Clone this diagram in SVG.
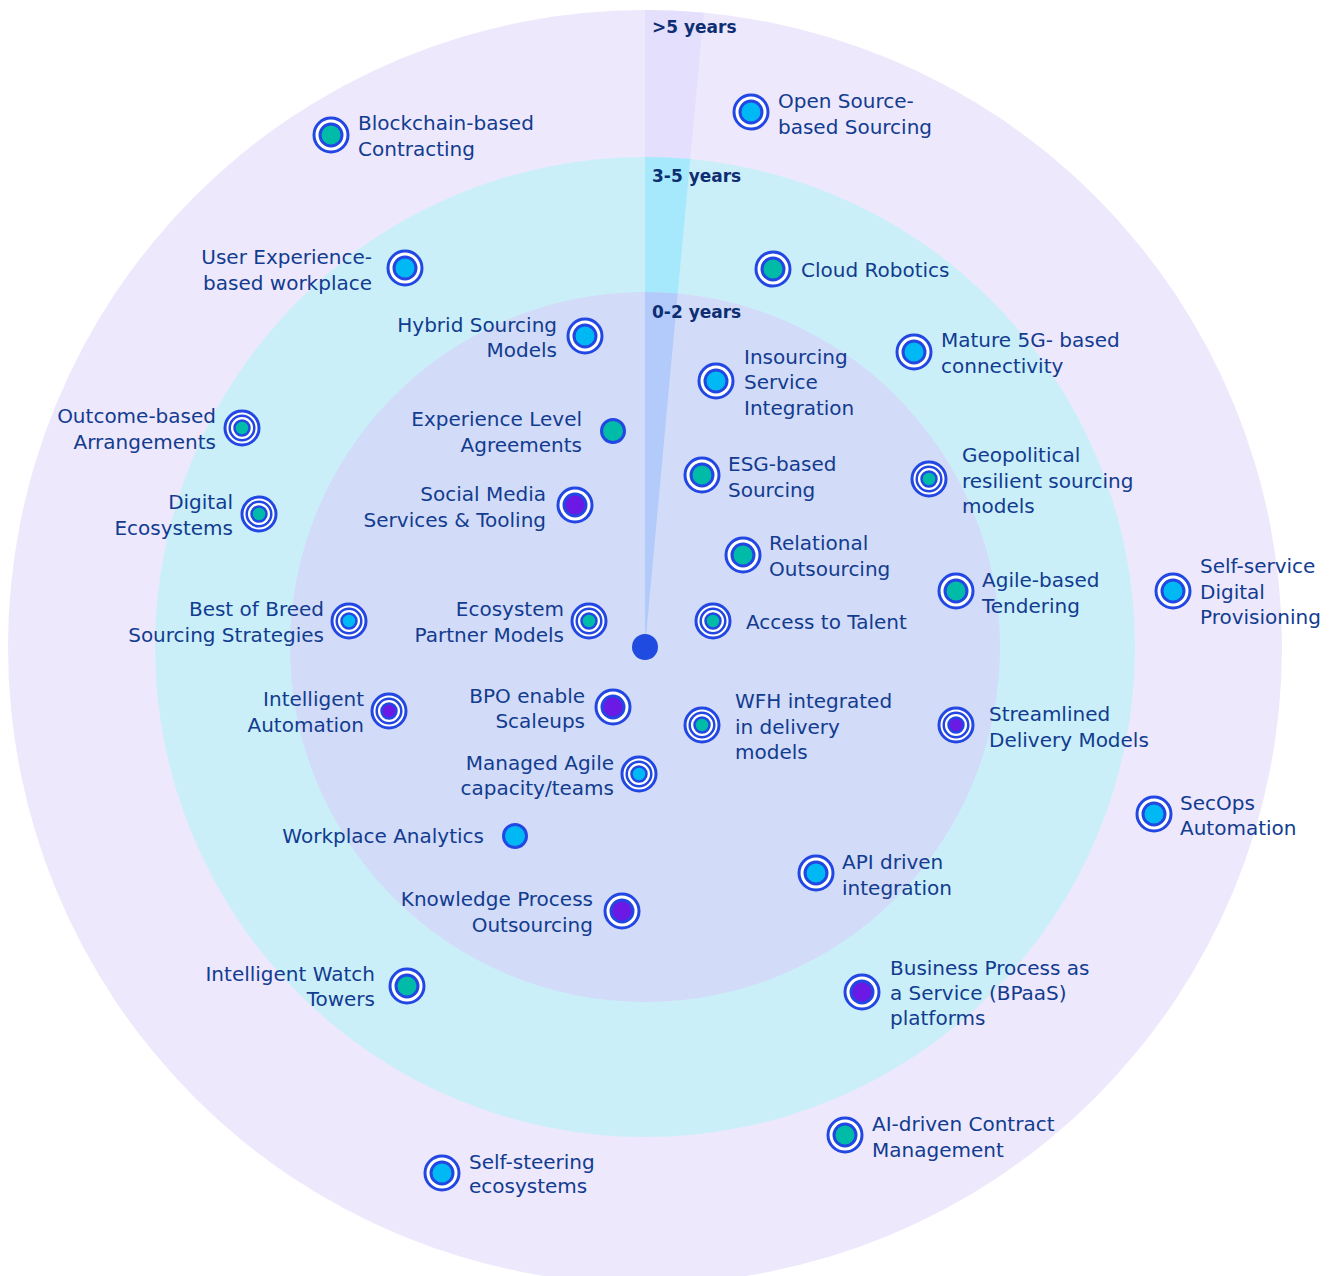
<svg xmlns="http://www.w3.org/2000/svg" xmlns:xlink="http://www.w3.org/1999/xlink" width="1342" height="1276" viewBox="0 0 1342 1276">
<style>
.lbl{font-family:"DejaVu Sans","Liberation Sans",sans-serif;font-size:20px;fill:#123c8f}
.end{text-anchor:end}
.yr{font-family:"DejaVu Sans","Liberation Sans",sans-serif;font-size:17px;font-weight:bold;fill:#0d2e72}
.c{color:#00b8f4}
.t{color:#00bba8}
.p{color:#6b1ae6}
</style>
<defs>
<g id="ms"><circle r="17" fill="#ffffff" stroke="#2347e3" stroke-width="3"/><circle r="11" fill="currentColor" stroke="#2347e3" stroke-width="3"/></g>
<g id="md"><circle r="17" fill="#ffffff" stroke="#2347e3" stroke-width="3"/><circle r="12.3" fill="#ffffff" stroke="#2347e3" stroke-width="2.5"/><circle r="7.5" fill="currentColor" stroke="#2347e3" stroke-width="2.5"/></g>
<g id="mn"><circle r="11.5" fill="currentColor" stroke="#2347e3" stroke-width="3"/></g>
</defs>
<rect width="1342" height="1276" fill="#ffffff"/>
<g id="rings">
<circle cx="645" cy="647" r="637" fill="#ede8fc"/>
<path d="M645,647 L645,10 A637,637 0 0 1 703.7,12.7 Z" fill="#e3dffc"/>
<circle cx="645" cy="647" r="490" fill="#cbeff9"/>
<path d="M645,647 L645,157 A490,490 0 0 1 690.2,159.1 Z" fill="#a6e9fc"/>
<circle cx="645" cy="647" r="355" fill="#d2dbf8"/>
<path d="M645,647 L645,292 A355,355 0 0 1 677.7,293.5 Z" fill="#b2cbfa"/>
<circle cx="645" cy="647" r="13" fill="#1f4be0"/>
<text class="yr" x="652" y="33">&gt;5 years</text>
<text class="yr" x="652" y="182">3-5 years</text>
<text class="yr" x="652" y="318">0-2 years</text>
</g>
<g id="connectors"></g>
<g id="n-open-source"><use xlink:href="#ms" href="#ms" x="751" y="112" class="c"/><text class="lbl" x="778" y="108">Open Source-<tspan x="778" dy="26">based Sourcing</tspan></text></g>
<g id="n-blockchain"><use xlink:href="#ms" href="#ms" x="331" y="135" class="t"/><text class="lbl" x="358" y="130">Blockchain-based<tspan x="358" dy="26">Contracting</tspan></text></g>
<g id="n-ux"><use xlink:href="#ms" href="#ms" x="405" y="268" class="c"/><text class="lbl end" x="372" y="264">User Experience-<tspan x="372" dy="26">based workplace</tspan></text></g>
<g id="n-outcome"><use xlink:href="#md" href="#md" x="242" y="428" class="t"/><text class="lbl end" x="216" y="423">Outcome-based<tspan x="216" dy="26">Arrangements</tspan></text></g>
<g id="n-digital-eco"><use xlink:href="#md" href="#md" x="259" y="514" class="t"/><text class="lbl end" x="233" y="509">Digital<tspan x="233" dy="26">Ecosystems</tspan></text></g>
<g id="n-best-breed"><use xlink:href="#md" href="#md" x="349" y="621" class="c"/><text class="lbl end" x="324" y="616">Best of Breed<tspan x="324" dy="26">Sourcing Strategies</tspan></text></g>
<g id="n-intel-auto"><use xlink:href="#md" href="#md" x="389" y="711" class="p"/><text class="lbl end" x="364" y="706">Intelligent<tspan x="364" dy="26">Automation</tspan></text></g>
<g id="n-watch-towers"><use xlink:href="#ms" href="#ms" x="407" y="986" class="t"/><text class="lbl end" x="375" y="981">Intelligent Watch<tspan x="375" dy="25">Towers</tspan></text></g>
<g id="n-self-steering"><use xlink:href="#ms" href="#ms" x="442" y="1173" class="c"/><text class="lbl" x="469" y="1169">Self-steering<tspan x="469" dy="24">ecosystems</tspan></text></g>
<g id="n-ai-contract"><use xlink:href="#ms" href="#ms" x="845" y="1135" class="t"/><text class="lbl" x="872" y="1131">AI-driven Contract<tspan x="872" dy="26">Management</tspan></text></g>
<g id="n-bpaas"><use xlink:href="#ms" href="#ms" x="862" y="992" class="p"/><text class="lbl" x="890" y="975">Business Process as<tspan x="890" dy="25">a Service (BPaaS)</tspan><tspan x="890" dy="25">platforms</tspan></text></g>
<g id="n-secops"><use xlink:href="#ms" href="#ms" x="1154" y="814" class="c"/><text class="lbl" x="1180" y="810">SecOps<tspan x="1180" dy="25">Automation</tspan></text></g>
<g id="n-self-service"><use xlink:href="#ms" href="#ms" x="1173" y="591" class="c"/><text class="lbl" x="1200" y="573">Self-service<tspan x="1200" dy="25.5">Digital</tspan><tspan x="1200" dy="25.5">Provisioning</tspan></text></g>
<g id="n-5g"><use xlink:href="#ms" href="#ms" x="914" y="352" class="c"/><text class="lbl" x="941" y="347">Mature 5G- based<tspan x="941" dy="26">connectivity</tspan></text></g>
<g id="n-cloud-robotics"><use xlink:href="#ms" href="#ms" x="773" y="269" class="t"/><text class="lbl" x="801" y="277">Cloud Robotics</text></g>
<g id="n-hybrid"><use xlink:href="#ms" href="#ms" x="585" y="336" class="c"/><text class="lbl end" x="557" y="332">Hybrid Sourcing<tspan x="557" dy="25">Models</tspan></text></g>
<g id="n-insourcing"><use xlink:href="#ms" href="#ms" x="716" y="381" class="c"/><text class="lbl" x="744" y="364">Insourcing<tspan x="744" dy="25">Service</tspan><tspan x="744" dy="25.5">Integration</tspan></text></g>
<g id="n-experience"><use xlink:href="#mn" href="#mn" x="613" y="431" class="t"/><text class="lbl end" x="582" y="426">Experience Level<tspan x="582" dy="26">Agreements</tspan></text></g>
<g id="n-social-media"><use xlink:href="#ms" href="#ms" x="575" y="505" class="p"/><text class="lbl end" x="546" y="501">Social Media<tspan x="546" dy="26">Services &amp; Tooling</tspan></text></g>
<g id="n-esg"><use xlink:href="#ms" href="#ms" x="702" y="475" class="t"/><text class="lbl" x="728" y="471">ESG-based<tspan x="728" dy="25.5">Sourcing</tspan></text></g>
<g id="n-relational"><use xlink:href="#ms" href="#ms" x="743" y="555" class="t"/><text class="lbl" x="769" y="550">Relational<tspan x="769" dy="26">Outsourcing</tspan></text></g>
<g id="n-access-talent"><use xlink:href="#md" href="#md" x="713" y="621" class="t"/><text class="lbl" x="746" y="629">Access to Talent</text></g>
<g id="n-wfh"><use xlink:href="#md" href="#md" x="702" y="725" class="t"/><text class="lbl" x="735" y="708">WFH integrated<tspan x="735" dy="26">in delivery</tspan><tspan x="735" dy="25">models</tspan></text></g>
<g id="n-geopolitical"><use xlink:href="#md" href="#md" x="929" y="479" class="t"/><text class="lbl" x="962" y="462">Geopolitical<tspan x="962" dy="26">resilient sourcing</tspan><tspan x="962" dy="25">models</tspan></text></g>
<g id="n-agile-tendering"><use xlink:href="#ms" href="#ms" x="956" y="591" class="t"/><text class="lbl" x="982" y="587">Agile-based<tspan x="982" dy="26">Tendering</tspan></text></g>
<g id="n-eco-partner"><use xlink:href="#md" href="#md" x="589" y="621" class="t"/><text class="lbl end" x="564" y="616">Ecosystem<tspan x="564" dy="26">Partner Models</tspan></text></g>
<g id="n-bpo"><use xlink:href="#ms" href="#ms" x="613" y="707" class="p"/><text class="lbl end" x="585" y="703">BPO enable<tspan x="585" dy="25">Scaleups</tspan></text></g>
<g id="n-managed-agile"><use xlink:href="#md" href="#md" x="639" y="774" class="c"/><text class="lbl end" x="614" y="770">Managed Agile<tspan x="614" dy="25">capacity/teams</tspan></text></g>
<g id="n-streamlined"><use xlink:href="#md" href="#md" x="956" y="725" class="p"/><text class="lbl" x="989" y="721">Streamlined<tspan x="989" dy="26">Delivery Models</tspan></text></g>
<g id="n-workplace"><use xlink:href="#mn" href="#mn" x="515" y="836" class="c"/><text class="lbl end" x="484" y="843">Workplace Analytics</text></g>
<g id="n-api"><use xlink:href="#ms" href="#ms" x="816" y="873" class="c"/><text class="lbl" x="842" y="869">API driven<tspan x="842" dy="26">integration</tspan></text></g>
<g id="n-kpo"><use xlink:href="#ms" href="#ms" x="622" y="911" class="p"/><text class="lbl end" x="593" y="906">Knowledge Process<tspan x="593" dy="26">Outsourcing</tspan></text></g>
</svg>
